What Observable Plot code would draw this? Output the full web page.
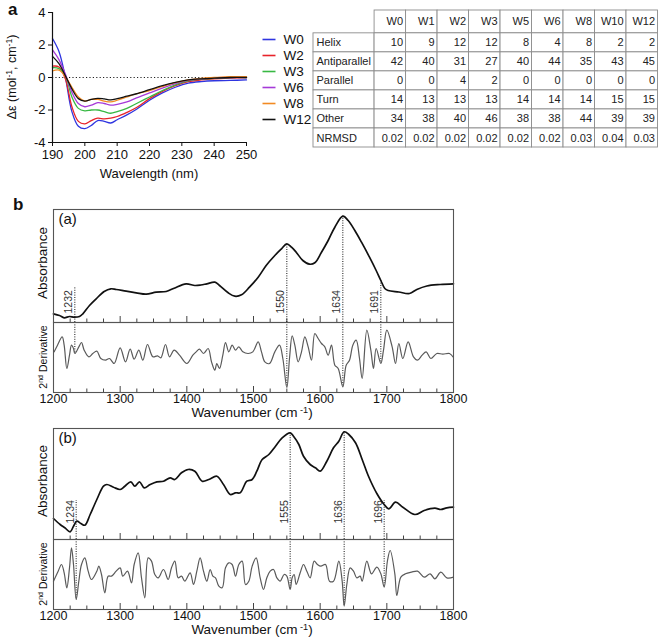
<!DOCTYPE html>
<html><head><meta charset="utf-8">
<script src="https://cdn.jsdelivr.net/npm/d3@7"></script>
<script src="https://cdn.jsdelivr.net/npm/@observablehq/plot@0.6"></script>
<style>
body{margin:0;background:#fff;}
#fig{position:relative;width:658px;height:638px;font-family:"Liberation Sans",Arial,sans-serif;color:#111;overflow:hidden;}
.lab{position:absolute;white-space:nowrap;transform:translate(-50%,-50%);line-height:1;}
.rot{transform:translate(-50%,-50%) rotate(-90deg);}
sup{font-size:0.68em;vertical-align:0.5em;line-height:0;}
.panel{position:absolute;font-weight:bold;font-size:17px;line-height:1;}
</style></head><body><div id="fig"></div>
<script>
// ---------- Panel a: CD spectra ----------
const cdSeries = ["W0","W2","W3","W6","W8","W12"];
const cdColors = ["#2f35e0","#e8232a","#38b843","#a53ad8","#f28a22","#111111"];
const cdWavelength = [190,192,194,196,198,200,202,204,206,208,210,213,216,220,224,228,232,236,240,245,250];
const cdW0  = [2.4,1.6,0.0,-2.1,-3.0,-3.15,-2.95,-2.65,-2.7,-2.8,-2.6,-2.3,-1.95,-1.4,-0.95,-0.6,-0.35,-0.25,-0.2,-0.18,-0.15];
const cdW2  = [0.7,0.65,-0.1,-1.8,-2.7,-2.85,-2.65,-2.5,-2.55,-2.5,-2.4,-2.15,-1.85,-1.3,-0.85,-0.5,-0.25,-0.15,-0.08,-0.03,0.0];
const cdW3  = [0.6,0.55,0.1,-1.2,-1.9,-2.05,-2.0,-2.0,-2.1,-2.2,-2.1,-1.9,-1.6,-1.2,-0.8,-0.45,-0.2,-0.1,-0.05,0.0,0.0];
const cdW6  = [1.7,1.1,0.2,-0.9,-1.6,-1.8,-1.7,-1.55,-1.6,-1.7,-1.65,-1.5,-1.25,-0.95,-0.65,-0.38,-0.18,-0.08,-0.02,0.0,0.0];
const cdW8  = [0.4,0.45,0.05,-0.6,-1.2,-1.45,-1.35,-1.35,-1.45,-1.5,-1.4,-1.2,-1.0,-0.8,-0.55,-0.32,-0.15,-0.05,0.0,0.05,0.05];
const cdW12 = [1.3,0.85,0.1,-0.7,-1.3,-1.45,-1.35,-1.28,-1.32,-1.38,-1.3,-1.15,-1.0,-0.75,-0.5,-0.3,-0.15,-0.08,-0.04,0.0,0.0];
const cdXTicks = [190,200,210,220,230,240,250];
const cdYTicks = [-4,-2,0,2,4];

// ---------- Panel a: secondary-structure table ----------
const tableCols = ["W0","W1","W2","W3","W5","W6","W8","W10","W12"];
const tableRows = ["Helix","Antiparallel","Parallel","Turn","Other","NRMSD"];
const tHelix = [10,9,12,12,8,4,8,2,2];
const tAnti  = [42,40,31,27,40,44,35,43,45];
const tPar   = [0,0,4,2,0,0,0,0,0];
const tTurn  = [14,13,13,13,14,14,14,15,15];
const tOther = [34,38,40,46,38,38,44,39,39];
const tNrmsd = ["0.02","0.02","0.02","0.02","0.02","0.02","0.03","0.04","0.03"];

// ---------- Panel b: FTIR spectra ----------
const ftirTickLabels = [1200,1300,1400,1500,1600,1700,1800];
const absA = [[1200,0.087],[1209,0.07],[1216,0.047],[1224,0.06],[1231,0.053],[1239,0.06],[1244,0.087],[1254,0.17],[1264,0.237],[1276,0.31],[1286,0.337],[1294,0.33],[1309,0.313],[1324,0.297],[1339,0.283],[1354,0.303],[1369,0.31],[1381,0.343],[1399,0.387],[1412,0.37],[1421,0.375],[1430,0.387],[1442,0.403],[1449,0.37],[1462,0.297],[1472,0.263],[1482,0.277],[1494,0.353],[1507,0.453],[1519,0.57],[1532,0.67],[1542,0.737],[1550,0.787],[1557,0.753],[1564,0.703],[1574,0.62],[1584,0.583],[1592,0.597],[1602,0.703],[1612,0.82],[1622,0.953],[1634,1.063],[1642,1.02],[1652,0.92],[1662,0.803],[1674,0.653],[1684,0.52],[1691,0.42],[1697,0.34],[1702,0.32],[1718,0.305],[1734,0.29],[1745,0.33],[1760,0.365],[1780,0.38],[1800,0.387]];
const derivA = [[1201,1.7],[1206,3.7],[1213,6.2],[1216,3.7],[1220,-3.3],[1224,0.7],[1227,3.7],[1230,2.7],[1232,1.2],[1238,3.2],[1242,4.5],[1246,2.2],[1253,0.2],[1259,1.2],[1265,1.9],[1271,-0.3],[1278,-0.8],[1284,-0.3],[1291,-1.8],[1300,2.9],[1308,-1.3],[1315,2.5],[1321,-0.5],[1328,2.2],[1334,-0.8],[1341,3.9],[1349,0.2],[1356,0.5],[1361,-0.1],[1368,3.9],[1374,0.2],[1381,2.2],[1389,0.7],[1400,-1.8],[1409,0.7],[1414,1.7],[1419,2.5],[1425,1.2],[1432,2.7],[1437,-1.3],[1442,-3.8],[1445,-1.8],[1449,-3.3],[1454,0.7],[1458,4.5],[1463,1.7],[1468,3.7],[1473,2.2],[1478,3.2],[1484,1.7],[1492,1.2],[1499,1.7],[1507,4.7],[1512,1.7],[1517,-1.3],[1524,-1.8],[1532,1.7],[1539,3.7],[1544,-0.3],[1550,-9.0],[1554,-0.3],[1558,6.5],[1562,3.7],[1567,-1.3],[1572,1.7],[1577,6.2],[1582,3.2],[1587,-0.8],[1592,7.2],[1597,5.7],[1602,4.2],[1607,3.2],[1612,0.7],[1617,3.7],[1622,-2.3],[1627,-3.3],[1634,-8.8],[1639,-2.3],[1644,-0.8],[1649,3.7],[1654,5.2],[1659,-0.3],[1663,-6.3],[1670,8.2],[1676,2.2],[1680,-3.3],[1684,2.7],[1691,-1.8],[1695,2.2],[1700,8.2],[1708,3.2],[1713,-1.8],[1718,4.2],[1724,-0.3],[1732,4.7],[1740,0.2],[1746,-0.8],[1753,0.7],[1759,1.7],[1766,-0.3],[1775,1.2],[1784,1.0],[1794,1.2],[1800,0]];
const markersA = [1232,1550,1634,1691];
const absB = [[1200,0.21],[1210,0.15],[1217,0.117],[1225,0.077],[1230,0.133],[1235,0.183],[1241,0.16],[1247,0.143],[1255,0.25],[1265,0.40],[1275,0.533],[1280,0.55],[1290,0.523],[1300,0.50],[1307,0.533],[1316,0.577],[1322,0.533],[1329,0.577],[1336,0.517],[1345,0.55],[1355,0.577],[1365,0.583],[1375,0.617],[1382,0.60],[1392,0.667],[1402,0.70],[1412,0.683],[1423,0.583],[1433,0.60],[1445,0.633],[1455,0.55],[1465,0.45],[1473,0.467],[1480,0.467],[1490,0.583],[1498,0.60],[1505,0.683],[1513,0.80],[1523,0.85],[1533,0.933],[1543,1.017],[1555,1.067],[1560,1.033],[1568,0.95],[1575,0.833],[1585,0.75],[1593,0.717],[1600,0.683],[1610,0.783],[1620,0.917],[1628,0.983],[1636,1.077],[1643,1.05],[1653,0.967],[1663,0.80],[1672,0.64],[1685,0.46],[1696,0.35],[1703,0.307],[1713,0.373],[1724,0.323],[1742,0.25],[1756,0.29],[1772,0.313],[1781,0.30],[1790,0.317],[1800,0.323]];
const derivB = [[1200,-2.0],[1207,1.0],[1212,3.0],[1216,0.5],[1220,-4.0],[1224,2.0],[1227,8.0],[1230,3.0],[1234,-7.5],[1238,-2.0],[1242,3.0],[1247,5.0],[1252,1.0],[1257,-1.5],[1265,1.0],[1268,2.5],[1272,0],[1277,-5.5],[1282,-0.5],[1287,-0.5],[1294,1.0],[1300,2.0],[1304,-0.5],[1311,1.0],[1317,-2.5],[1321,3.0],[1327,6.5],[1332,-1.0],[1337,-7.0],[1342,5.0],[1347,4.0],[1352,0],[1357,-1.0],[1365,1.5],[1372,-1.5],[1377,2.0],[1382,4.0],[1387,-1.0],[1392,-0.5],[1397,-2.0],[1405,0.5],[1410,-3.0],[1415,1.0],[1420,5.0],[1425,1.0],[1430,-2.0],[1435,1.5],[1439,-0.5],[1443,-1.0],[1448,-3.5],[1453,-4.0],[1458,2.0],[1463,3.5],[1468,3.0],[1473,-0.5],[1478,3.0],[1483,4.0],[1488,-3.0],[1493,-2.0],[1498,2.5],[1504,5.0],[1510,-1.0],[1515,-4.5],[1520,-1.0],[1525,1.0],[1530,1.5],[1535,-1.0],[1540,-2.0],[1546,0],[1550,-0.5],[1555,-4.5],[1558,-1.0],[1561,0],[1564,-3.0],[1570,0.5],[1575,3.0],[1580,1.0],[1585,-1.0],[1591,4.0],[1596,3.0],[1601,2.5],[1608,3.0],[1614,-2.0],[1620,-2.0],[1628,4.0],[1633,-2.0],[1636,-9.5],[1640,-3.0],[1645,2.0],[1650,1.0],[1655,-1.0],[1660,-0.5],[1663,-2.0],[1670,4.0],[1677,0.2],[1685,2.2],[1691,0.2],[1696,-3.8],[1701,4.2],[1705,7.2],[1712,0.2],[1715,-6.3],[1721,-0.8],[1728,0.2],[1737,0.7],[1746,1.0],[1756,-0.8],[1765,0.2],[1772,-1.3],[1781,0.7],[1790,-1.0],[1800,-0.8]];
const markersB = [1234,1555,1636,1696];

// ---------- helpers ----------
const fig = document.getElementById("fig");
const font = '"Liberation Sans", Arial, sans-serif';
const baseStyle = {fontFamily: font, fontSize: "12px", color: "#111", background: "transparent", overflow: "visible"};
function place(el, left, top) {
  el.style.position = "absolute"; el.style.left = left + "px"; el.style.top = top + "px";
  fig.appendChild(el); return el;
}
function label(html, cx, cy, size, rotate) {
  const d = document.createElement("div");
  d.className = "lab" + (rotate ? " rot" : "");
  d.innerHTML = html; d.style.left = cx + "px"; d.style.top = cy + "px"; d.style.fontSize = size + "px";
  fig.appendChild(d);
}
function panelLetter(t, left, top) {
  const d = document.createElement("div"); d.className = "panel"; d.textContent = t;
  d.style.left = left + "px"; d.style.top = top + "px"; fig.appendChild(d);
}

// ---------- CD chart ----------
const cdValues = [cdW0, cdW2, cdW3, cdW6, cdW8, cdW12];
const cdLong = cdSeries.flatMap((s, i) => cdWavelength.map((w, j) => ({series: s, wl: w, v: cdValues[i][j]})));
const cd = Plot.plot({
  width: 255, height: 185, marginLeft: 52, marginRight: 9, marginTop: 12, marginBottom: 43,
  style: baseStyle,
  x: {domain: [190, 250]}, y: {domain: [-4, 4]},
  color: {domain: cdSeries, range: cdColors},
  marks: [
    Plot.ruleY([0], {stroke: "#222", strokeDasharray: "1.2,2.2"}),
    Plot.line(cdLong, {x: "wl", y: "v", z: "series", stroke: "series", strokeWidth: 1.3, curve: "catmull-rom"}),
    Plot.axisX({ticks: cdXTicks, tickSize: 4, tickPadding: 3, label: null, fontSize: 13}),
    Plot.axisY({ticks: cdYTicks, tickSize: 4, tickPadding: 3, label: null, fontSize: 13, tickFormat: d => d < 0 ? "-" + (-d) : String(d)}),
    Plot.ruleX([190], {strokeWidth: 1.2}),
    Plot.ruleY([-4], {strokeWidth: 1.2})
  ]
});
place(cd, 0, 0);
label("Δε (mol<sup>-1</sup>, cm<sup>-1</sup>)", 12, 77, 12.5, true);
label("Wavelength (nm)", 149, 173, 13, false);
panelLetter("a", 8, 1);

// legend
const leg = Plot.plot({
  width: 55, height: 120, margin: 0, style: baseStyle,
  x: {domain: [0, 1], range: [7, 20], axis: null},
  y: {type: "point", domain: cdSeries, range: [11, 107], axis: null},
  color: {domain: cdSeries, range: cdColors},
  marks: [
    Plot.link(cdSeries, {x1: 0, x2: 1, y1: d => d, y2: d => d, stroke: d => d, strokeWidth: 1.6}),
    Plot.text(cdSeries, {x: 1, y: d => d, text: d => d, dx: 8, textAnchor: "start", fontSize: 13.5, fill: "#111"})
  ]
});
place(leg, 255, 20);

// ---------- table ----------
const L = 1.94, H = 1.2;
const tableData = [tHelix, tAnti, tPar, tTurn, tOther, tNrmsd];
const cells = [];
const texts = [];
tableCols.forEach((c, j) => {
  cells.push({x1: L + j, x2: L + j + 1, y1: 0, y2: H});
  texts.push({x: L + j + 1, y: H / 2, t: c, a: "end"});
});
tableRows.forEach((r, i) => {
  cells.push({x1: 0, x2: L, y1: H + i, y2: H + i + 1});
  texts.push({x: 0, y: H + i + 0.5, t: r, a: "start"});
  tableCols.forEach((c, j) => {
    cells.push({x1: L + j, x2: L + j + 1, y1: H + i, y2: H + i + 1});
    texts.push({x: L + j + 1, y: H + i + 0.5, t: String(tableData[i][j]), a: "end"});
  });
});
const table = Plot.plot({
  width: 358, height: 155, style: baseStyle,
  x: {domain: [0, L + tableCols.length], range: [13, 357.5], axis: null},
  y: {domain: [0, H + tableRows.length], range: [10, 147], axis: null},
  marks: [
    Plot.rect(cells, {x1: "x1", x2: "x2", y1: "y1", y2: "y2", fill: "white", stroke: "#8c8c8c", strokeWidth: 0.9}),
    Plot.text(texts.filter(d => d.a === "end"), {x: "x", y: "y", text: "t", textAnchor: "end", dx: -3, fontSize: 11, fill: "#222"}),
    Plot.text(texts.filter(d => d.a === "start"), {x: "x", y: "y", text: "t", textAnchor: "start", dx: 3, fontSize: 11, fill: "#222"})
  ]
});
place(table, 300, 0);

// ---------- FTIR ----------
const minorTicks = d3.range(1200, 1801, 25);
function interp(data, w) {
  for (let k = 0; k < data.length - 1; k++) {
    if (data[k][0] <= w && data[k + 1][0] >= w) {
      const t = (w - data[k][0]) / (data[k + 1][0] - data[k][0]);
      return data[k][1] + t * (data[k + 1][1] - data[k][1]);
    }
  }
  return data[data.length - 1][1];
}
function ftir(opts) {
  const {top, absH, absMax, abs, deriv, markers, tag, labelBase, labelTop} = opts;
  const absRows = abs.map(([w, v]) => ({w, v}));
  const derRows = deriv.map(([w, v]) => ({w, v}));
  const mk = markers.map(w => ({w, label: String(w), top: Math.max(interp(abs, w), labelTop), bottom: interp(deriv, w)}));
  const xs = {domain: [1200, 1800]};
  const unitA = absMax / absH; // data units per px
  const absPlot = Plot.plot({
    width: 461, height: absH + 4, marginLeft: 53, marginRight: 8, marginTop: 4, marginBottom: 0,
    style: baseStyle,
    x: {...xs, axis: null}, y: {domain: [0, absMax], axis: null},
    marks: [
      Plot.ruleX(minorTicks, {x: d => d, y1: 0, y2: d => (d % 100 === 0 ? 6 : 3.5) * unitA, stroke: "#444", strokeWidth: 1}),
      Plot.ruleX(mk, {x: "w", y1: 0, y2: "top", stroke: "#111", strokeWidth: 1, strokeDasharray: "1,1.4"}),
      Plot.text(mk, {x: "w", y: () => labelBase, text: "label", rotate: -90, textAnchor: "start", dx: -6, fontSize: 10.5, fill: "#333"}),
      Plot.line(absRows, {x: "w", y: "v", stroke: "#111", strokeWidth: 1.7, curve: "catmull-rom"}),
      Plot.text([tag], {frameAnchor: "top-left", text: d => d, dx: 5, dy: 4, textAnchor: "start", lineAnchor: "top", fontSize: 15, fill: "#111"}),
      Plot.frame({stroke: "#555", strokeWidth: 1.1})
    ]
  });
  place(absPlot, 0, top - 4);
  const dTop = top + absH;
  const unitD = 21 / 70;
  const derPlot = Plot.plot({
    width: 461, height: 4 + 70 + 35, marginLeft: 53, marginRight: 8, marginTop: 4, marginBottom: 35,
    style: baseStyle,
    x: {...xs}, y: {domain: [-10.5, 10.5], axis: null},
    marks: [
      Plot.ruleX(minorTicks, {x: d => d, y1: -10.5, y2: d => -10.5 + (d % 100 === 0 ? 6 : 3.5) * unitD, stroke: "#444", strokeWidth: 1}),
      Plot.ruleX(mk, {x: "w", y1: 10.5, y2: "bottom", stroke: "#111", strokeWidth: 1, strokeDasharray: "1,1.4"}),
      Plot.line(derRows, {x: "w", y: "v", stroke: "#5a5a5a", strokeWidth: 1.2, curve: "catmull-rom"}),
      Plot.axisX({ticks: ftirTickLabels, tickSize: 0, tickPadding: 2, label: null, fontSize: 12.5, tickFormat: d3.format("d")}),
      Plot.frame({stroke: "#555", strokeWidth: 1.1})
    ]
  });
  place(derPlot, 0, dTop - 4);
  label("Absorbance", 43, top + absH / 2 - 3, 13.5, true);
  label("2<sup>nd</sup> Derivative", 43, dTop + 35, 10.5, true);
  label("Wavenumber (cm<sup> -1</sup>)", 252, dTop + 91, 13.5, false);
}
panelLetter("b", 13, 196);
ftir({top: 209, absH: 113, absMax: 1.13, abs: absA, deriv: derivA, markers: markersA, tag: "(a)", labelBase: 0.09, labelTop: 0.35});
ftir({top: 428, absH: 111, absMax: 1.11, abs: absB, deriv: derivB, markers: markersB, tag: "(b)", labelBase: 0.16, labelTop: 0.39});
</script></body></html>
